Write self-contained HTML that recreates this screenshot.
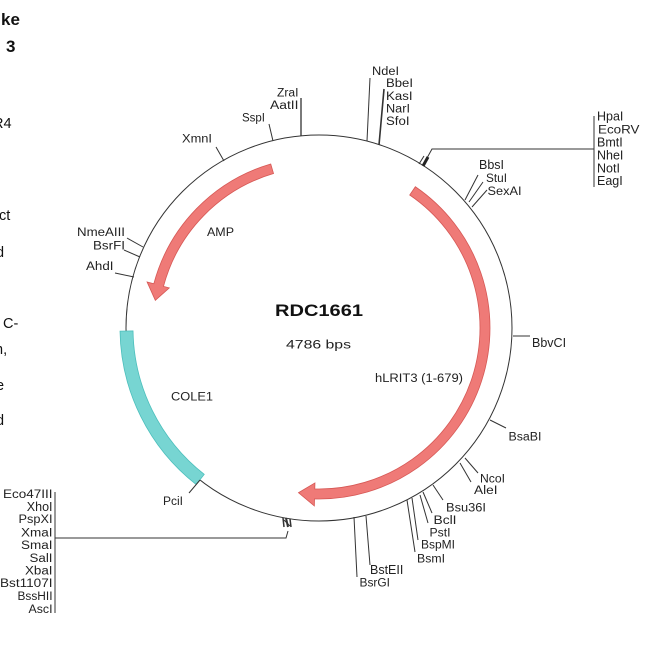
<!DOCTYPE html>
<html><head><meta charset="utf-8"><style>
html,body{margin:0;padding:0;background:#fff;}
svg{display:block;}
text{font-family:"Liberation Sans",Arial,sans-serif;fill:#222;}
.l{font-size:11.5px;}
.b{font-size:12.5px;}
.d{font-size:14.5px;fill:#111;}
</style></head><body>
<svg width="650" height="650" viewBox="0 0 650 650" xmlns="http://www.w3.org/2000/svg">
<rect width="650" height="650" fill="#fff"/>
<!-- document fragments -->
<text x="1" y="25" style="font-size:17px;font-weight:bold;fill:#111">ke</text>
<text x="6" y="52" style="font-size:17px;font-weight:bold;fill:#111">3</text>
<text class="d" x="-7" y="128">R4</text>
<text class="d" x="-1" y="220">ct</text>
<text class="d" x="-4" y="257">d</text>
<text class="d" x="3" y="328">C-</text>
<text class="d" x="-5" y="354">n,</text>
<text class="d" x="-4" y="390">e</text>
<text class="d" x="-4" y="425">d</text>

<!-- backbone -->
<circle cx="319" cy="328" r="193" fill="none" stroke="#333" stroke-width="1"/>

<!-- features -->
<path d="M120.02,331.13 A199,199 0 0 0 196.22,484.59 L204.24,474.36 A186,186 0 0 1 133.02,330.92 Z" fill="#77d5d2" stroke="#4cbfbc" stroke-width="0.8"/>
<path d="M270.73,163.96 A171,171 0 0 0 153.83,283.75 L147.07,281.93 L155.32,300.31 L169.29,287.89 L163.49,286.33 A161,161 0 0 1 273.55,173.55 Z" fill="#ef7a77" stroke="#d65855" stroke-width="0.8"/>
<path d="M415.36,186.74 A171,171 0 0 1 314.52,498.94 L314.34,505.94 L298.48,492.72 L314.94,482.95 L314.79,488.95 A161,161 0 0 0 409.72,195.0 Z" fill="#ef7a77" stroke="#d65855" stroke-width="0.8"/>

<!-- ticks -->
<g stroke="#333" stroke-width="1" fill="none">
<line x1="370" y1="78" x2="367" y2="141"/>
<line x1="384" y1="89" x2="379" y2="145" stroke-width="1.6"/>
<line x1="301" y1="98" x2="301" y2="136" stroke-width="1.3"/>
<line x1="269" y1="124" x2="273" y2="141"/>
<line x1="216" y1="147" x2="224" y2="161"/>
<line x1="127" y1="238" x2="143" y2="247"/>
<line x1="124" y1="250" x2="140" y2="257"/>
<line x1="115" y1="273" x2="134" y2="277"/>
<line x1="478" y1="175" x2="465" y2="200"/>
<line x1="483" y1="182" x2="469" y2="202"/>
<line x1="487" y1="190" x2="472" y2="207"/>
<polyline points="594,149 432,149 427,158"/>
<line x1="594" y1="116" x2="594" y2="187"/>
<line x1="419" y1="164" x2="424" y2="156"/>
<line x1="423" y1="166" x2="428" y2="157" stroke-width="3" stroke="#222"/>
<line x1="513" y1="336" x2="530" y2="336"/>
<line x1="490" y1="420" x2="506" y2="428"/>
<line x1="465" y1="458" x2="478" y2="473"/>
<line x1="460" y1="463" x2="471" y2="482"/>
<line x1="433" y1="485" x2="443" y2="500"/>
<line x1="423" y1="492" x2="432" y2="513"/>
<line x1="420" y1="495" x2="428" y2="523"/>
<line x1="412" y1="498" x2="418" y2="540"/>
<line x1="407" y1="500" x2="415" y2="552"/>
<line x1="366" y1="516" x2="370" y2="565"/>
<line x1="354" y1="517" x2="357" y2="577"/>
<line x1="200" y1="480" x2="189" y2="493"/>
<line x1="55" y1="492" x2="55" y2="613"/>
<polyline points="55,538 286,538 288,531"/>
<line x1="283" y1="518" x2="284" y2="527" stroke-width="1.5"/>
<line x1="286" y1="518" x2="288" y2="527" stroke-width="2"/>
<line x1="290" y1="519" x2="291" y2="527" stroke-width="1.5"/>
<line x1="284" y1="520" x2="290" y2="526"/>
</g>

<!-- labels -->
<g class="l">
<text x="372" y="75" textLength="27" lengthAdjust="spacingAndGlyphs">NdeI</text>
<text x="386" y="87" textLength="27" lengthAdjust="spacingAndGlyphs">BbeI</text>
<text x="386" y="100" textLength="26.5" lengthAdjust="spacingAndGlyphs">KasI</text>
<text x="386" y="112.5" textLength="24" lengthAdjust="spacingAndGlyphs">NarI</text>
<text x="386" y="125" textLength="23.5" lengthAdjust="spacingAndGlyphs">SfoI</text>
<text x="277" y="96.5" textLength="21.5" lengthAdjust="spacingAndGlyphs">ZraI</text>
<text x="270" y="109" textLength="28.5" lengthAdjust="spacingAndGlyphs">AatII</text>
<text x="242" y="121.5" textLength="23" lengthAdjust="spacingAndGlyphs">SspI</text>
<text x="182" y="142.5" textLength="30" lengthAdjust="spacingAndGlyphs">XmnI</text>
<text x="77" y="236" textLength="48" lengthAdjust="spacingAndGlyphs">NmeAIII</text>
<text x="93" y="249.5" textLength="32" lengthAdjust="spacingAndGlyphs">BsrFI</text>
<text x="86" y="270" textLength="27.5" lengthAdjust="spacingAndGlyphs">AhdI</text>
<text x="207" y="236" textLength="27" lengthAdjust="spacingAndGlyphs">AMP</text>
<text class="b" x="479" y="169">BbsI</text>
<text x="486" y="182" textLength="21" lengthAdjust="spacingAndGlyphs">StuI</text>
<text x="487.5" y="195" textLength="34" lengthAdjust="spacingAndGlyphs">SexAI</text>
<text class="b" x="597" y="120.7">HpaI</text>
<text x="598" y="133.6" textLength="41.5" lengthAdjust="spacingAndGlyphs">EcoRV</text>
<text class="b" x="597" y="146.5">BmtI</text>
<text class="b" x="597" y="159.4">NheI</text>
<text class="b" x="597" y="172.3">NotI</text>
<text class="b" x="597" y="185">EagI</text>
<text class="b" x="532" y="347">BbvCI</text>
<text x="508.5" y="440.5" textLength="33" lengthAdjust="spacingAndGlyphs">BsaBI</text>
<text x="480" y="482.5" textLength="25" lengthAdjust="spacingAndGlyphs">NcoI</text>
<text x="474" y="494" textLength="23.5" lengthAdjust="spacingAndGlyphs">AleI</text>
<text x="446" y="511.5" textLength="40" lengthAdjust="spacingAndGlyphs">Bsu36I</text>
<text x="433.5" y="524" textLength="23" lengthAdjust="spacingAndGlyphs">BclI</text>
<text x="429.5" y="536.5" textLength="21" lengthAdjust="spacingAndGlyphs">PstI</text>
<text x="421" y="548.5" textLength="34" lengthAdjust="spacingAndGlyphs">BspMI</text>
<text x="417" y="562.5" textLength="28" lengthAdjust="spacingAndGlyphs">BsmI</text>
<text class="b" x="370" y="574">BstEII</text>
<text x="359.5" y="586.5" textLength="30.5" lengthAdjust="spacingAndGlyphs">BsrGI</text>
<text x="163" y="505" textLength="20" lengthAdjust="spacingAndGlyphs">PciI</text>
<text x="171" y="400.5" textLength="42" lengthAdjust="spacingAndGlyphs">COLE1</text>
<text x="375" y="382" textLength="88" lengthAdjust="spacingAndGlyphs">hLRIT3 (1-679)</text>
<text x="286" y="348.3" textLength="65" lengthAdjust="spacingAndGlyphs">4786 bps</text>
<text x="3" y="498" textLength="49.5" lengthAdjust="spacingAndGlyphs">Eco47III</text>
<text class="b" x="52.5" y="510.75" text-anchor="end">XhoI</text>
<text x="18.5" y="523" textLength="34" lengthAdjust="spacingAndGlyphs">PspXI</text>
<text x="21" y="536.25" textLength="31.5" lengthAdjust="spacingAndGlyphs">XmaI</text>
<text x="21" y="549" textLength="31.5" lengthAdjust="spacingAndGlyphs">SmaI</text>
<text x="29.5" y="561.75" textLength="23" lengthAdjust="spacingAndGlyphs">SalI</text>
<text x="25" y="574.5" textLength="27.5" lengthAdjust="spacingAndGlyphs">XbaI</text>
<text x="0" y="587" textLength="52.5" lengthAdjust="spacingAndGlyphs">Bst1107I</text>
<text x="17.5" y="600" textLength="35" lengthAdjust="spacingAndGlyphs">BssHII</text>
<text x="28.5" y="612.75" textLength="24" lengthAdjust="spacingAndGlyphs">AscI</text>
</g>
<text x="275" y="316" textLength="88" lengthAdjust="spacingAndGlyphs" style="font-size:17px;font-weight:bold;fill:#111">RDC1661</text>
</svg>
</body></html>
